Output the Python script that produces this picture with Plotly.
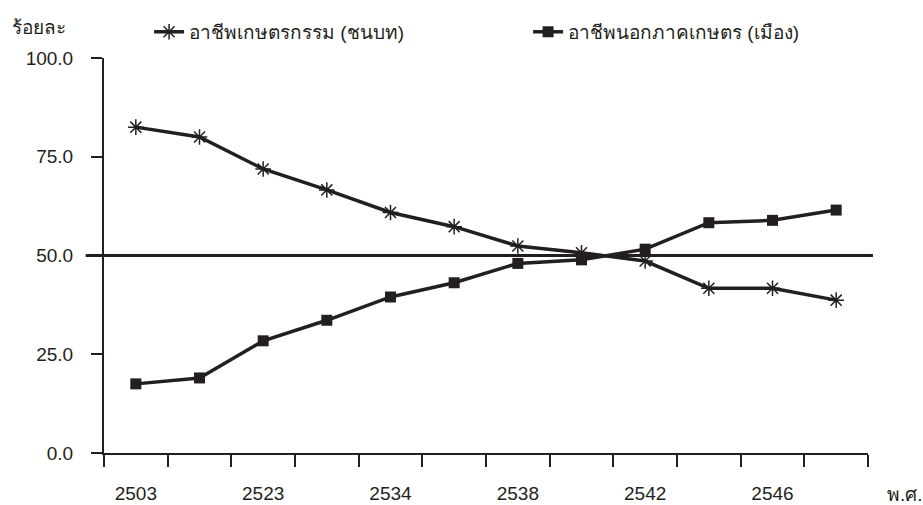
import plotly.graph_objects as go

years = ["2503", "", "2523", "", "2534", "", "2538", "", "2542", "", "2546", ""]
agri = [82.5, 80.0, 71.9, 66.6, 60.9, 57.3, 52.4, 50.7, 48.6, 41.7, 41.7, 38.7]
nonagri = [17.5, 19.0, 28.4, 33.6, 39.5, 43.1, 48.0, 48.9, 51.6, 58.3, 58.9, 61.5]
yticks = [0, 25, 50, 75, 100]
ref_level = 50

name_agri = "อาชีพเกษตรกรรม (ชนบท)"
name_non = "อาชีพนอกภาคเกษตร (เมือง)"
ylabel = "ร้อยละ"
xlabel = "พ.ศ."

ink = "#231f20"
num_font = "Liberation Sans, Arial, sans-serif"

x = list(range(len(agri)))

fig = go.Figure()
fig.add_trace(go.Scatter(
    x=x, y=agri, name=name_agri, mode="lines+markers",
    line=dict(color=ink, width=3.5),
    marker=dict(symbol="asterisk-open", size=13, color=ink, line=dict(color=ink, width=1.5)),
))
fig.add_trace(go.Scatter(
    x=x, y=nonagri, name=name_non, mode="lines+markers",
    line=dict(color=ink, width=3.5),
    marker=dict(symbol="square", size=11, color=ink),
))

fig.add_shape(type="line", xref="paper", yref="y", x0=-0.024, x1=1.0065,
              y0=ref_level, y1=ref_level, line=dict(color=ink, width=3), layer="above")

fig.update_layout(
    width=923, height=505,
    margin=dict(l=104, r=55, t=58, b=52, autoexpand=False),
    paper_bgcolor="white", plot_bgcolor="white",
    font=dict(family=num_font, size=19, color=ink),
    showlegend=True,
    legend=dict(orientation="h", x=0.059, xanchor="left", y=1.066, yanchor="middle",
                font=dict(size=19, color=ink), entrywidth=334, entrywidthmode="pixels",
                bgcolor="rgba(0,0,0,0)"),
    xaxis=dict(
        range=[-0.5, 11.5], showgrid=False, zeroline=False,
        showline=True, linecolor=ink, linewidth=2,
        tickmode="array", tickvals=x, ticktext=years, ticks="", ticklabelstandoff=22,
        minor=dict(tickvals=[i - 0.5 for i in range(len(agri) + 1)], ticks="outside",
                   ticklen=12, tickwidth=2, tickcolor=ink, showgrid=False),
    ),
    yaxis=dict(
        range=[0, 100], showgrid=False, zeroline=False,
        showline=True, linecolor=ink, linewidth=2,
        tickmode="array", tickvals=yticks, tickformat=".1f",
        ticks="outside", ticklen=11, tickwidth=2, tickcolor=ink, ticklabelstandoff=14,
    ),
    annotations=[
        dict(text=ylabel, xref="paper", yref="paper", x=-0.123, y=1.078,
             xanchor="left", yanchor="middle", showarrow=False, font=dict(size=19, color=ink)),
        dict(text=xlabel, xref="paper", yref="paper", x=1.022, y=-0.104,
             xanchor="left", yanchor="middle", showarrow=False, font=dict(size=19, color=ink)),
    ],
)

fig.write_html("out.html", config={"displayModeBar": False},
               post_script="document.body.style.margin='0';document.body.style.padding='0';")
